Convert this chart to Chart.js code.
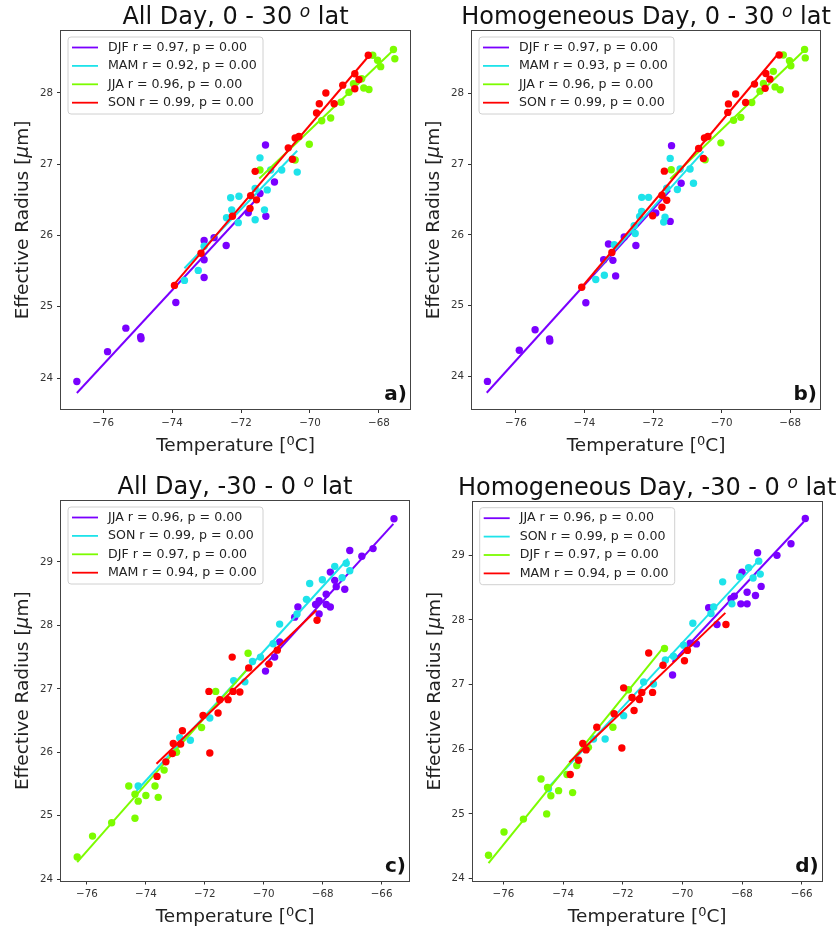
<!DOCTYPE html>
<html>
<head>
<meta charset="utf-8">
<script src="https://cdn.jsdelivr.net/npm/chart.js@4/dist/chart.umd.min.js"></script>
<style>
    body { margin: 0; background: #fff; width: 840px; height: 930px; position: relative; overflow: hidden; }
    canvas { position: absolute; }
</style>
</head>
<body>
<canvas id="pa" width="420" height="460" style="left:0;top:0"></canvas>
<canvas id="pb" width="420" height="460" style="left:420px;top:0"></canvas>
<canvas id="pc" width="420" height="470" style="left:0;top:460px"></canvas>
<canvas id="pd" width="420" height="470" style="left:420px;top:460px"></canvas>
<script>
'use strict';

// ---- data: [temperature degC, effective radius um] ----
var aDJF = [[-76.76,23.95],[-75.87,24.37],[-75.34,24.70],[-74.91,24.58],[-74.90,24.55],[-73.89,25.06],[-73.07,25.93],[-73.07,25.66],[-73.07,25.41],[-72.78,25.97],[-72.43,25.86],[-71.79,26.32],[-71.45,26.59],[-71.28,26.27],[-71.29,27.27],[-71.03,26.75]];
var aMAM = [[-73.64,25.37],[-73.24,25.51],[-73.07,25.85],[-72.42,26.25],[-72.30,26.53],[-72.06,26.55],[-72.27,26.36],[-72.08,26.18],[-71.59,26.22],[-71.32,26.36],[-71.59,26.66],[-71.24,26.64],[-71.45,27.09],[-71.14,26.92],[-70.82,26.92],[-70.37,26.89]];
var aJJA = [[-71.45,26.92],[-70.43,27.06],[-70.02,27.28],[-69.66,27.61],[-69.40,27.65],[-69.10,27.87],[-68.87,28.01],[-68.74,28.13],[-68.50,28.20],[-68.44,28.07],[-68.29,28.05],[-68.18,28.53],[-68.04,28.46],[-67.95,28.37],[-67.58,28.61],[-67.54,28.48]];
var aSON = [[-73.93,25.30],[-73.16,25.75],[-72.25,26.27],[-71.74,26.38],[-71.72,26.56],[-71.55,26.50],[-71.59,26.90],[-70.63,27.23],[-70.51,27.07],[-70.43,27.37],[-70.32,27.39],[-69.81,27.72],[-69.73,27.85],[-69.54,28.00],[-69.30,27.85],[-69.05,28.11],[-68.70,28.27],[-68.58,28.19],[-68.70,28.06],[-68.31,28.53]];
var aFit = [[-76.76,23.79,-71.40,26.59],[-73.64,25.54,-70.37,27.19],[-71.47,26.80,-67.54,28.62],[-74.00,25.28,-68.26,28.54]];

var bDJF = [[-76.83,23.93],[-75.90,24.37],[-75.44,24.66],[-75.02,24.53],[-75.01,24.50],[-73.96,25.04],[-73.30,25.87],[-73.44,25.65],[-73.17,25.64],[-73.09,25.42],[-72.84,25.97],[-72.50,25.85],[-71.92,26.31],[-71.50,26.19],[-71.46,27.26],[-71.18,26.73]];
var bMAM = [[-73.67,25.37],[-73.42,25.43],[-73.13,25.86],[-72.55,26.13],[-72.52,26.02],[-72.33,26.53],[-72.13,26.53],[-72.33,26.33],[-72.39,26.26],[-71.69,26.18],[-71.65,26.25],[-71.60,26.66],[-71.29,26.64],[-71.50,27.08],[-71.21,26.93],[-70.92,26.93],[-70.82,26.73]];
var bJJA = [[-71.47,26.92],[-70.48,27.06],[-70.02,27.30],[-69.65,27.62],[-69.44,27.66],[-69.12,27.87],[-68.88,28.03],[-68.78,28.14],[-68.49,28.31],[-68.44,28.09],[-68.29,28.05],[-68.20,28.54],[-68.02,28.46],[-67.98,28.39],[-67.58,28.62],[-67.56,28.50]];
var bSON = [[-74.08,25.26],[-73.20,25.75],[-72.01,26.27],[-71.74,26.39],[-71.74,26.56],[-71.60,26.49],[-71.67,26.90],[-70.67,27.22],[-70.53,27.08],[-70.50,27.37],[-70.40,27.39],[-69.82,27.73],[-69.80,27.85],[-69.59,27.99],[-69.30,27.87],[-69.04,28.13],[-68.71,28.28],[-68.59,28.20],[-68.73,28.07],[-68.32,28.54]];
var bFit = [[-76.85,23.77,-71.50,26.63],[-73.71,25.47,-70.53,27.18],[-71.50,26.79,-67.52,28.64],[-74.08,25.26,-68.31,28.58]];

var cJJA = [[-65.58,29.68],[-66.29,29.21],[-66.67,29.09],[-67.08,29.18],[-67.74,28.84],[-67.59,28.71],[-67.25,28.57],[-67.54,28.61],[-67.88,28.49],[-67.74,28.29],[-67.88,28.33],[-68.12,28.39],[-68.24,28.33],[-68.12,28.18],[-68.84,28.29],[-68.95,28.13],[-69.46,27.74],[-69.63,27.50],[-69.94,27.28]];
var cSON = [[-67.20,28.98],[-67.59,28.93],[-67.08,28.86],[-67.34,28.75],[-68.01,28.72],[-68.44,28.66],[-68.55,28.41],[-68.87,28.18],[-69.46,28.02],[-69.68,27.71],[-70.11,27.50],[-70.38,27.43],[-71.02,27.13],[-70.64,27.11],[-71.83,26.54],[-72.49,26.19],[-72.85,26.23],[-74.26,25.47]];
var cDJF = [[-70.53,27.56],[-71.63,26.96],[-72.11,26.39],[-72.96,26.00],[-73.38,25.72],[-73.69,25.47],[-74.58,25.47],[-74.37,25.34],[-74.26,25.23],[-74.00,25.32],[-73.58,25.29],[-74.37,24.96],[-75.16,24.89],[-75.81,24.68],[-76.33,24.35]];
var cMAM = [[-71.07,27.50],[-70.51,27.33],[-69.82,27.39],[-69.54,27.61],[-71.86,26.96],[-71.49,26.83],[-71.21,26.83],[-71.04,26.96],[-70.81,26.95],[-71.55,26.62],[-72.06,26.58],[-72.76,26.34],[-73.07,26.14],[-72.82,26.13],[-73.10,25.98],[-73.32,25.85],[-73.62,25.62],[-71.83,25.99],[-68.19,28.08]];
var cFit = [[-69.95,27.38,-65.60,29.60],[-74.32,25.39,-67.14,29.05],[-76.33,24.27,-70.59,27.29],[-73.64,25.82,-68.21,28.24]];

var dJJA = [[-65.88,29.57],[-66.36,29.18],[-66.83,29.00],[-67.48,29.04],[-68.00,28.74],[-67.36,28.52],[-67.83,28.43],[-67.55,28.38],[-68.26,28.37],[-68.37,28.33],[-68.04,28.25],[-67.83,28.25],[-69.12,28.19],[-68.84,27.93],[-69.53,27.63],[-69.74,27.64],[-70.33,27.15]];
var dSON = [[-67.44,28.91],[-67.78,28.81],[-67.63,28.65],[-67.39,28.71],[-68.08,28.67],[-68.65,28.59],[-68.34,28.25],[-68.95,28.20],[-69.04,28.10],[-69.65,27.95],[-69.96,27.61],[-70.30,27.44],[-70.57,27.38],[-71.30,27.04],[-70.97,27.01],[-71.97,26.52],[-72.59,26.16],[-72.98,26.16],[-74.49,25.39]];
var dDJF = [[-70.60,27.56],[-71.81,26.92],[-72.33,26.34],[-73.15,26.03],[-73.54,25.75],[-73.87,25.61],[-74.74,25.54],[-74.52,25.41],[-74.41,25.28],[-74.15,25.36],[-73.68,25.33],[-74.55,25.00],[-75.33,24.92],[-75.98,24.72],[-76.50,24.36]];
var dMAM = [[-71.13,27.49],[-70.65,27.30],[-69.93,27.37],[-69.83,27.53],[-71.97,26.95],[-71.69,26.80],[-71.44,26.77],[-71.36,26.88],[-71.00,26.88],[-71.62,26.60],[-72.29,26.55],[-72.87,26.34],[-73.34,26.09],[-73.23,25.99],[-73.48,25.83],[-73.76,25.61],[-72.03,26.02],[-68.54,27.93]];
var dFit = [[-70.33,27.35,-65.93,29.52],[-74.49,25.41,-67.39,28.95],[-76.50,24.24,-70.63,27.58],[-73.79,25.80,-68.56,28.11]];

var seasonsTop = ['DJF', 'MAM', 'JJA', 'SON'];
var seasonsBottom = ['JJA', 'SON', 'DJF', 'MAM'];
var rA = [0.97, 0.92, 0.96, 0.99];
var rB = [0.97, 0.93, 0.96, 0.99];
var rC = [0.96, 0.99, 0.97, 0.94];
var rD = [0.96, 0.99, 0.97, 0.94];
var pAll = [0.00, 0.00, 0.00, 0.00];

var xTicksTop = [-76, -74, -72, -70, -68];
var xTicksBottom = [-76, -74, -72, -70, -68, -66];
var yTicksTop = [24, 25, 26, 27, 28];
var yTicksBottom = [24, 25, 26, 27, 28, 29];

var COLORS = ['#7a00ff', '#1ee3ea', '#7cfc00', '#ff0000'];
var FONT = 'DejaVu Sans';

Chart.defaults.font.family = FONT;

function legendLabels(seasons, r) {
    return seasons.map(function (s, i) {
        return s + ' r = ' + r[i].toFixed(2) + ', p = ' + pAll[i].toFixed(2);
    });
}

var PANELS = [
    {id: 'pa', h: 460, area: {l: 61, t: 31, r: 410, b: 409}, x: [-77.22, -67.10], y: [23.565, 28.87],
     xt: xTicksTop, yt: yTicksTop, title: ['All Day, 0 - 30 ', ' lat'], letter: 'a)',
     series: [aDJF, aMAM, aJJA, aSON], fits: aFit, labels: legendLabels(seasonsTop, rA)},
    {id: 'pb', h: 460, area: {l: 52, t: 31, r: 400, b: 409}, x: [-77.28, -67.13], y: [23.54, 28.88],
     xt: xTicksTop, yt: yTicksTop, title: ['Homogeneous Day, 0 - 30 ', ' lat'], letter: 'b)',
     series: [bDJF, bMAM, bJJA, bSON], fits: bFit, labels: legendLabels(seasonsTop, rB)},
    {id: 'pc', h: 470, area: {l: 61, t: 41, r: 409, b: 420.5}, x: [-76.88, -65.07], y: [23.98, 29.96],
     xt: xTicksBottom, yt: yTicksBottom, title: ['All Day, -30 - 0 ', ' lat'], letter: 'c)',
     series: [cJJA, cSON, cDJF, cMAM], fits: cFit, labels: legendLabels(seasonsBottom, rC)},
    {id: 'pd', h: 470, area: {l: 52.7, t: 41.7, r: 401.7, b: 420.5}, x: [-77.03, -65.33], y: [23.97, 29.83],
     xt: xTicksBottom, yt: yTicksBottom, title: ['Homogeneous Day, -30 - 0 ', ' lat'], letter: 'd)',
     series: [dJJA, dSON, dDJF, dMAM], fits: dFit, labels: legendLabels(seasonsBottom, rD)}
];

// draws text pieces with different fonts / offsets, centred on x, baseline y
function drawRich(ctx, parts, x, y, rot) {
    ctx.save();
    ctx.translate(x, y);
    ctx.rotate(rot || 0);
    ctx.textAlign = 'left';
    ctx.textBaseline = 'alphabetic';
    var total = 0;
    parts.forEach(function (p) {
        ctx.font = p.font;
        p.w = ctx.measureText(p.text).width;
        total += p.w;
    });
    var cx = -total / 2;
    parts.forEach(function (p) {
        ctx.font = p.font;
        ctx.fillText(p.text, cx, p.dy || 0);
        cx += p.w;
    });
    ctx.restore();
}

function roundRect(ctx, x, y, w, h, r) {
    ctx.beginPath();
    ctx.moveTo(x + r, y);
    ctx.arcTo(x + w, y, x + w, y + h, r);
    ctx.arcTo(x + w, y + h, x, y + h, r);
    ctx.arcTo(x, y + h, x, y, r);
    ctx.arcTo(x, y, x + w, y, r);
    ctx.closePath();
}

var panelDeco = {
    id: 'panelDeco',
    afterDraw: function (chart) {
        var o = chart.options.plugins.panelDeco;
        var ctx = chart.ctx;
        var a = chart.chartArea;
        ctx.save();

        // frame
        ctx.strokeStyle = '#444';
        ctx.lineWidth = 1;
        ctx.strokeRect(Math.round(a.left) - 0.5, Math.round(a.top) - 0.5,
            Math.round(a.right) - Math.round(a.left) + 1, Math.round(a.bottom) - Math.round(a.top) + 1);

        // legend box inside the axes
        var bx = a.left + 7, by = a.top + 6;
        roundRect(ctx, bx, by, 195, 77, 3);
        ctx.fillStyle = 'rgba(255,255,255,0.8)';
        ctx.fill();
        ctx.strokeStyle = '#d0d0d0';
        ctx.stroke();
        ctx.font = '12.6px "' + FONT + '"';
        ctx.textBaseline = 'middle';
        ctx.textAlign = 'left';
        o.labels.forEach(function (txt, i) {
            var ly = by + 10.5 + i * 18.4;
            ctx.strokeStyle = COLORS[i];
            ctx.lineWidth = 1.8;
            ctx.beginPath();
            ctx.moveTo(bx + 4, ly);
            ctx.lineTo(bx + 30, ly);
            ctx.stroke();
            ctx.fillStyle = '#222';
            ctx.fillText(txt, bx + 40, ly);
        });

        // panel letter
        ctx.font = 'bold 20px "' + FONT + '"';
        ctx.textAlign = 'right';
        ctx.textBaseline = 'alphabetic';
        ctx.fillStyle = '#111';
        ctx.fillText(o.letter, a.right - 3, a.bottom - 9);

        // title
        ctx.fillStyle = '#111';
        var cxm = (a.left + a.right) / 2;
        drawRich(ctx, [
            {text: o.title[0], font: '24px "' + FONT + '"'},
            {text: 'o', font: 'italic 17px "' + FONT + '"', dy: -7},
            {text: o.title[1], font: '24px "' + FONT + '"'}
        ], cxm, a.top - 7, 0);

        // x axis title
        ctx.fillStyle = '#222';
        drawRich(ctx, [
            {text: 'Temperature [', font: '18.5px "' + FONT + '"'},
            {text: '0', font: '13px "' + FONT + '"', dy: -6},
            {text: 'C]', font: '18.5px "' + FONT + '"'}
        ], cxm, a.bottom + 41.5, 0);

        // y axis title
        drawRich(ctx, [
            {text: 'Effective Radius [', font: '18.5px "' + FONT + '"'},
            {text: '\u03bc', font: 'italic 18.5px "' + FONT + '"'},
            {text: 'm]', font: '18.5px "' + FONT + '"'}
        ], a.left - 33, (a.top + a.bottom) / 2, -Math.PI / 2);

        ctx.restore();
    }
};

function buildDatasets(series, fits) {
    var ds = [];
    series.forEach(function (pts, i) {
        ds.push({
            type: 'scatter',
            data: pts.map(function (p) { return {x: p[0], y: p[1]}; }),
            backgroundColor: COLORS[i],
            borderWidth: 0,
            pointRadius: 3.7,
            pointHoverRadius: 3.7
        });
        var f = fits[i];
        ds.push({
            type: 'line',
            data: [{x: f[0], y: f[1]}, {x: f[2], y: f[3]}],
            borderColor: COLORS[i],
            borderWidth: 2,
            pointRadius: 0,
            fill: false,
            showLine: true
        });
    });
    // later datasets on top, like matplotlib
    ds.forEach(function (d, k) { d.order = -k; });
    return ds;
}

function minusSign(v) {
    return String(v).replace('-', '\u2212');
}

PANELS.forEach(function (p) {
    var canvas = document.getElementById(p.id);
    var tickGrid = {display: true, drawOnChartArea: false, drawTicks: true, tickLength: 4, color: '#333', lineWidth: 1};
    new Chart(canvas.getContext('2d'), {
        type: 'scatter',
        data: {datasets: buildDatasets(p.series, p.fits)},
        plugins: [panelDeco],
        options: {
            responsive: false,
            animation: false,
            events: [],
            layout: {padding: {left: 0, top: p.area.t, right: 420 - p.area.r, bottom: 0}},
            plugins: {
                legend: {display: false},
                tooltip: {enabled: false},
                panelDeco: {labels: p.labels, letter: p.letter, title: p.title}
            },
            scales: {
                x: {
                    type: 'linear',
                    min: p.x[0],
                    max: p.x[1],
                    afterBuildTicks: function (s) { s.ticks = p.xt.map(function (v) { return {value: v}; }); },
                    afterFit: function (s) { s.height = p.h - p.area.b; },
                    grid: tickGrid,
                    border: {display: false},
                    ticks: {color: '#333', font: {size: 10.3}, padding: 4, maxRotation: 0, autoSkip: false, callback: minusSign}
                },
                y: {
                    type: 'linear',
                    min: p.y[0],
                    max: p.y[1],
                    afterBuildTicks: function (s) { s.ticks = p.yt.map(function (v) { return {value: v}; }); },
                    afterFit: function (s) { s.width = p.area.l; },
                    grid: tickGrid,
                    border: {display: false},
                    ticks: {color: '#333', font: {size: 10.3}, padding: 4, autoSkip: false, callback: minusSign}
                }
            }
        }
    });
});
</script>
</body>
</html>
